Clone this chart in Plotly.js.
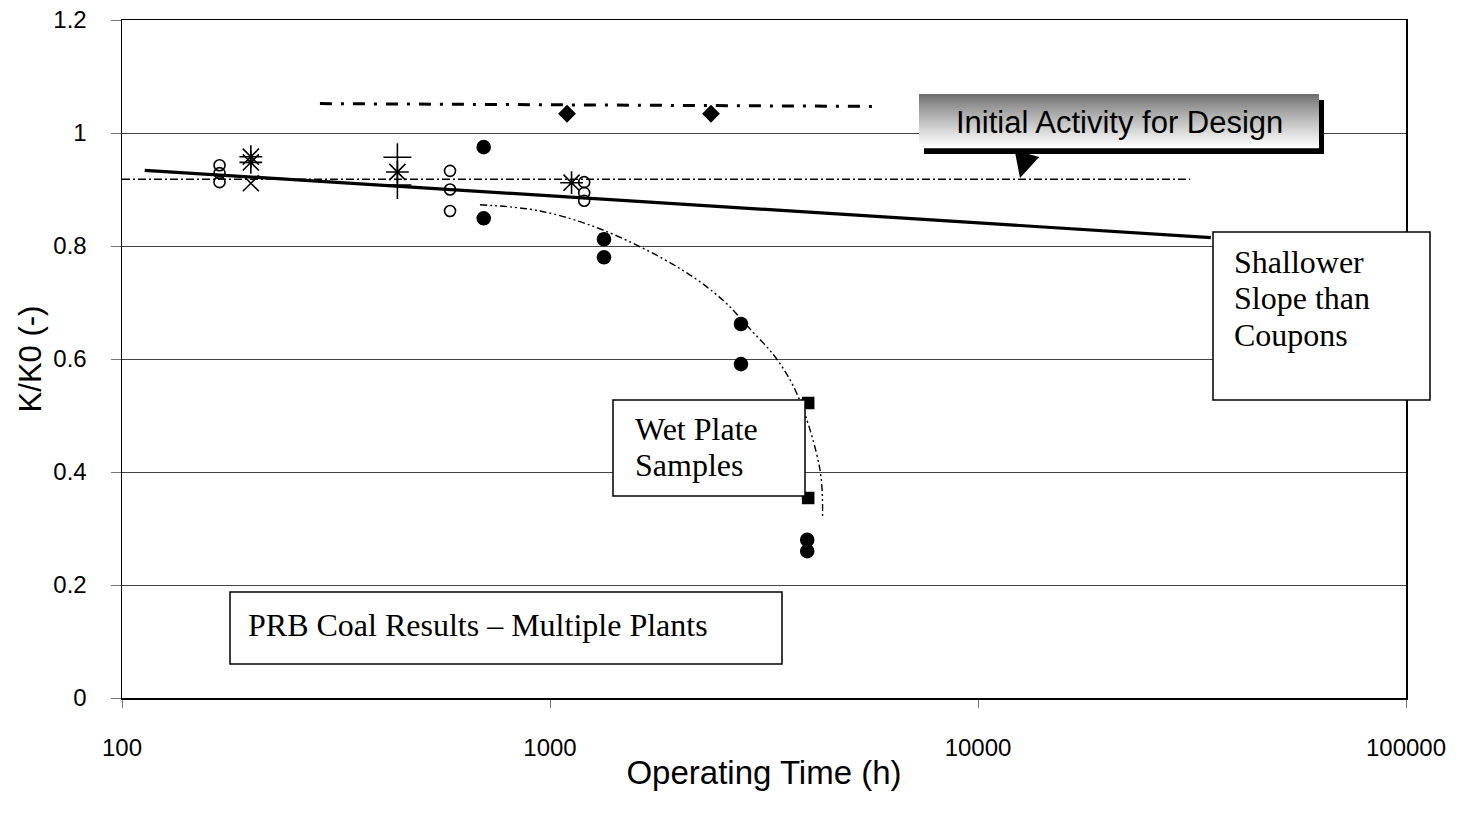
<!DOCTYPE html>
<html>
<head>
<meta charset="utf-8">
<script src="https://cdn.plot.ly/plotly-3.0.1.min.js"></script>
<style>html,body{margin:0;padding:0;background:#fff;}#chart{width:1457px;height:814px;}</style>
</head>
<body>
<div id="chart"></div>
<script>
// ---- data ----
const openCircleX = [169, 169, 169, 584, 584, 584, 1202, 1202, 1202];
const openCircleY = [0.943, 0.929, 0.913, 0.933, 0.900, 0.862, 0.913, 0.894, 0.880];
const filledCircleX = [700, 700, 1337, 1337, 2794, 2794, 3990, 3990];
const filledCircleY = [0.975, 0.849, 0.812, 0.780, 0.662, 0.591, 0.280, 0.260];
const squareX = [4010, 4010];
const squareY = [0.522, 0.354];
const diamondX = [1096, 2378];
const diamondY = [1.034, 1.034];
const asteriskX = [200, 200, 440, 1123];
const asteriskY = [0.958, 0.948, 0.931, 0.912];
const xMarkX = [200];
const xMarkY = [0.911];
const plusX = [440, 440];
const plusY = [0.957, 0.908];

const trendX = [113, 35000];
const trendY = [0.934, 0.815];
const designX = [100, 31300];
const designY = [0.918, 0.918];
const upperX = [290, 5900];
const upperY = [1.052, 1.047];
const wetX = [686, 948, 1332, 2013, 2537, 2901, 3386, 3803, 4273, 4333];
const wetY = [0.873, 0.862, 0.828, 0.760, 0.704, 0.657, 0.600, 0.533, 0.404, 0.320];

const xTickVals = [100, 1000, 10000, 100000];
const xTickText = ['100', '1000', '10000', '100000'];
const yTickVals = [0, 0.2, 0.4, 0.6, 0.8, 1.0, 1.2];
const yTickText = ['0', '0.2', '0.4', '0.6', '0.8', '1', '1.2'];

const designLabel = 'Initial Activity for Design';
const slopeLines = ['Shallower', 'Slope than', 'Coupons'];
const wetLines = ['Wet Plate', 'Samples'];
const prbLabel = 'PRB Coal Results \u2013 Multiple Plants';

// ---- layout helpers (pixel -> paper) ----
const PL = 122, PR = 1406, PT = 20, PB = 698;
const PW = PR - PL, PH = PB - PT;
const px = v => (v - PL) / PW;
const py = v => (PB - v) / PH;

const SANS = 'Liberation Sans, Arial, sans-serif';
const SERIF = 'Liberation Serif, Times New Roman, serif';

function mk(x, y, symbol, size) {
  return {
    x: x, y: y, type: 'scatter', mode: 'markers', hoverinfo: 'skip',
    marker: { symbol: symbol, size: size, color: '#000',
      line: { color: '#000', width: 1.6 } }
  };
}

const traces = [
  { x: designX, y: designY, type: 'scatter', mode: 'lines', hoverinfo: 'skip',
    line: { color: '#000', width: 1.5, dash: '8px,3px,2px,3px' } },
  { x: upperX, y: upperY, type: 'scatter', mode: 'lines', hoverinfo: 'skip',
    line: { color: '#000', width: 3, dash: '12px,9px,3px,9px' } },
  { x: trendX, y: trendY, type: 'scatter', mode: 'lines', hoverinfo: 'skip',
    line: { color: '#000', width: 3.2 } },
  { x: wetX, y: wetY, type: 'scatter', mode: 'lines', hoverinfo: 'skip',
    line: { color: '#000', width: 1.4, dash: '7px,3px,2px,3px,2px,3px', shape: 'spline', smoothing: 1 } },
  mk(openCircleX, openCircleY, 'circle-open', 11),
  mk(filledCircleX, filledCircleY, 'circle', 13),
  mk(squareX, squareY, 'square', 11),
  mk(diamondX, diamondY, 'diamond', 12),
  mk(asteriskX, asteriskY, 'asterisk-open', 19),
  mk(xMarkX, xMarkY, 'x-thin-open', 16),
  mk(plusX, plusY, 'cross-thin-open', 20)
];

const shapes = [];
// shadow of the design label box
shapes.push({ type: 'rect', xref: 'paper', yref: 'paper', layer: 'above',
  x0: px(924), x1: px(1324), y0: py(154), y1: py(100),
  fillcolor: '#000', line: { width: 0 } });
// gradient body
const NSTRIP = 27, gTop = 94, gBot = 148;
for (let i = 0; i < NSTRIP; i++) {
  const y0 = gTop + (gBot - gTop) * i / NSTRIP;
  const y1 = gTop + (gBot - gTop) * (i + 1) / NSTRIP;
  const g = Math.round(110 + (255 - 110) * Math.pow(i / (NSTRIP - 1), 0.85));
  shapes.push({ type: 'rect', xref: 'paper', yref: 'paper', layer: 'above',
    x0: px(919), x1: px(1319), y0: py(y1 + 0.3), y1: py(y0),
    fillcolor: 'rgb(' + g + ',' + g + ',' + g + ')', line: { width: 0 } });
}
// white text boxes
function box(x0, x1, y0, y1) {
  shapes.push({ type: 'rect', xref: 'paper', yref: 'paper', layer: 'above',
    x0: px(x0), x1: px(x1), y0: py(y1), y1: py(y0),
    fillcolor: '#fff', line: { color: '#000', width: 1.5 } });
}
box(1213, 1430, 232, 400);
box(613, 805, 400, 496);
box(230, 782, 592, 664);

const annotations = [];
annotations.push({ xref: 'paper', yref: 'paper', x: px(1119), y: py(123),
  text: designLabel, showarrow: false, xanchor: 'center', yanchor: 'middle',
  font: { family: SANS, size: 31, color: '#000' } });
const slopeY = [262, 298, 335];
slopeLines.forEach((t, i) => annotations.push({ xref: 'paper', yref: 'paper',
  x: px(1232), y: py(slopeY[i]), text: t, showarrow: false, xanchor: 'left', yanchor: 'middle',
  font: { family: SERIF, size: 32, color: '#000' } }));
const wetYpos = [429, 465];
wetLines.forEach((t, i) => annotations.push({ xref: 'paper', yref: 'paper',
  x: px(633), y: py(wetYpos[i]), text: t, showarrow: false, xanchor: 'left', yanchor: 'middle',
  font: { family: SERIF, size: 32, color: '#000' } }));
annotations.push({ xref: 'paper', yref: 'paper', x: px(246), y: py(625),
  text: prbLabel, showarrow: false, xanchor: 'left', yanchor: 'middle',
  font: { family: SERIF, size: 32, color: '#000' } });
// arrow
annotations.push({ xref: 'paper', yref: 'paper', x: px(1020), y: py(178),
  ax: 7, ay: -25, text: '', showarrow: true, arrowhead: 2, arrowsize: 3.4,
  arrowwidth: 1.5, arrowcolor: '#000' });

const layout = {
  width: 1457, height: 814,
  margin: { l: PL, r: 1457 - PR, t: PT, b: 814 - PB, pad: 0 },
  paper_bgcolor: '#fff', plot_bgcolor: '#fff',
  showlegend: false, hovermode: false,
  font: { family: SANS, color: '#000' },
  xaxis: {
    type: 'log', range: [2, 5], tickmode: 'array', tickvals: xTickVals, ticktext: xTickText,
    ticks: 'outside', ticklen: 8, tickwidth: 1, tickcolor: '#777',
    showgrid: false, zeroline: false,
    showline: true, linecolor: '#000', linewidth: 1.5, mirror: true,
    tickfont: { family: SANS, size: 24, color: '#000' }, ticklabelstandoff: 20,
    title: { text: 'Operating Time (h)', font: { family: SANS, size: 33, color: '#000' }, standoff: 0 },
    automargin: false
  },
  yaxis: {
    range: [0, 1.2], tickmode: 'array', tickvals: yTickVals, ticktext: yTickText,
    ticks: 'outside', ticklen: 10, tickwidth: 1, tickcolor: '#777',
    showgrid: true, gridcolor: '#444', gridwidth: 1, zeroline: false,
    showline: true, linecolor: '#000', linewidth: 1.5, mirror: true,
    tickfont: { family: SANS, size: 24, color: '#000' }, ticklabelstandoff: 19,
    title: { text: 'K/K0 (-)', font: { family: SANS, size: 31, color: '#000' }, standoff: 2 },
    automargin: false
  },
  shapes: shapes,
  annotations: annotations
};

Plotly.newPlot('chart', traces, layout, { displayModeBar: false, staticPlot: true });
</script>
</body>
</html>
